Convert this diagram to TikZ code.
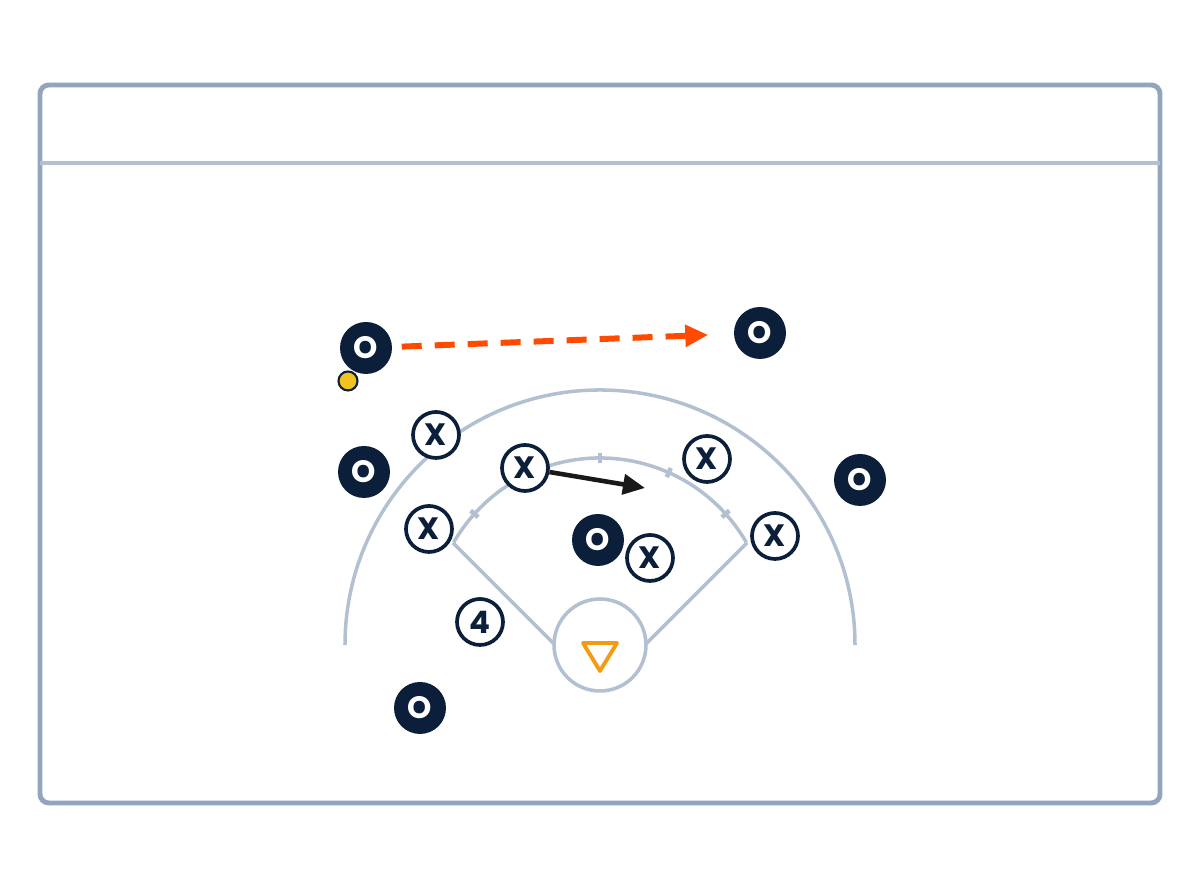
\documentclass[tikz,border=0pt]{standalone}
\usepackage{fontspec}
\setsansfont{Poppins}
\usetikzlibrary{arrows.meta, positioning, calc}
\definecolor{cnavy}{HTML}{0B1F3A}
\definecolor{cfield}{HTML}{B3C0D1}
\definecolor{cframe}{HTML}{93A5BD}
\definecolor{cthrow}{HTML}{FF4A00}
\definecolor{cball}{HTML}{F4C21F}
\definecolor{cbase}{HTML}{F39C12}
\tikzset{
  every picture/.style={font=\sffamily\bfseries, line width=1pt},
  offense/.style={circle, fill=cnavy, text=white, minimum size=0.52cm, inner sep=0pt, font=\sffamily\bfseries\fontsize{8.8}{8.8}\selectfont},
  defense/.style={circle, draw=cnavy, fill=white, text=cnavy, line width=1.05pt, minimum size=0.46cm, inner sep=0pt, font=\sffamily\bfseries\fontsize{8.8}{8.8}\selectfont},
  ball/.style={circle, draw=cnavy, fill=cball, line width=0.6pt, minimum size=0.19cm, inner sep=0pt},
  fieldline/.style={draw=cfield, line width=1pt},
  throw/.style={-{Triangle[length=2.3mm, width=2.1mm]}, draw=cthrow, line width=1.7pt, dash pattern=on 2mm off 1.3mm},
  run/.style={-{Triangle[length=2.2mm, width=2mm]}, draw=black!90, line width=1.3pt},
}

\begin{document}
\begin{tikzpicture}
  \useasboundingbox (0,0) rectangle (12,8.96);
  % frame and header
  \draw[cframe, line width=1.4pt, rounded corners=2.5pt] (0.40,0.93) rectangle (11.60,8.11);
  \draw[cfield, line width=1.1pt] (0.40,7.33) -- (11.60,7.33);
  % field
  \coordinate (home) at (6.00,2.51);
  \coordinate (apex) at (6.00,2.06);
  \coordinate (first) at (7.47,3.53);
  \coordinate (third) at (4.53,3.53);
  \draw[fieldline] ($(home)+(2.55,0)$) arc[start angle=0, end angle=180, radius=2.55];
  \draw[fieldline] ($(6.00,2.69)+(30:1.69)$) arc[start angle=30, end angle=150, radius=1.69];
  \foreach \a in {42,66,90,114,138} {
    \draw[fieldline, line width=1.3pt] ($(6.00,2.69)+(\a:1.64)$) -- ($(6.00,2.69)+(\a:1.74)$);
  }
  \draw[fieldline] (third) -- (apex) -- (first);
  \node[circle, draw=cfield, fill=white, line width=1pt, minimum size=0.92cm] (plate) at (home) {};
  \draw[cbase, line width=1.1pt, line join=round] (5.83,2.53) -- (6.17,2.53) -- (6.00,2.25) -- cycle;
  % players
  \foreach \i/\x/\y in {1/3.66/5.48, 2/7.60/5.63, 3/3.64/4.24, 4/8.60/4.16, 5/5.98/3.56, 6/4.20/1.88} {
    \node[offense] (o\i) at (\x,\y) {O};
  }
  \foreach \i/\x/\y in {1/4.36/4.61, 2/5.25/4.28, 3/7.07/4.37, 4/4.29/3.67, 5/7.75/3.60, 6/6.50/3.38} {
    \node[defense] (x\i) at (\x,\y) {X};
  }
  \node[defense] (n4) at (4.80,2.74) {4};
  \node[ball] (b) at (3.48,5.15) {};
  % movement
  \coordinate (runend) at (6.45,4.08);
  \draw[throw, shorten <=0.08cm, shorten >=0.24cm] (o1) -- (o2);
  \draw[run] (x2) -- (runend);
\end{tikzpicture}
\end{document}
